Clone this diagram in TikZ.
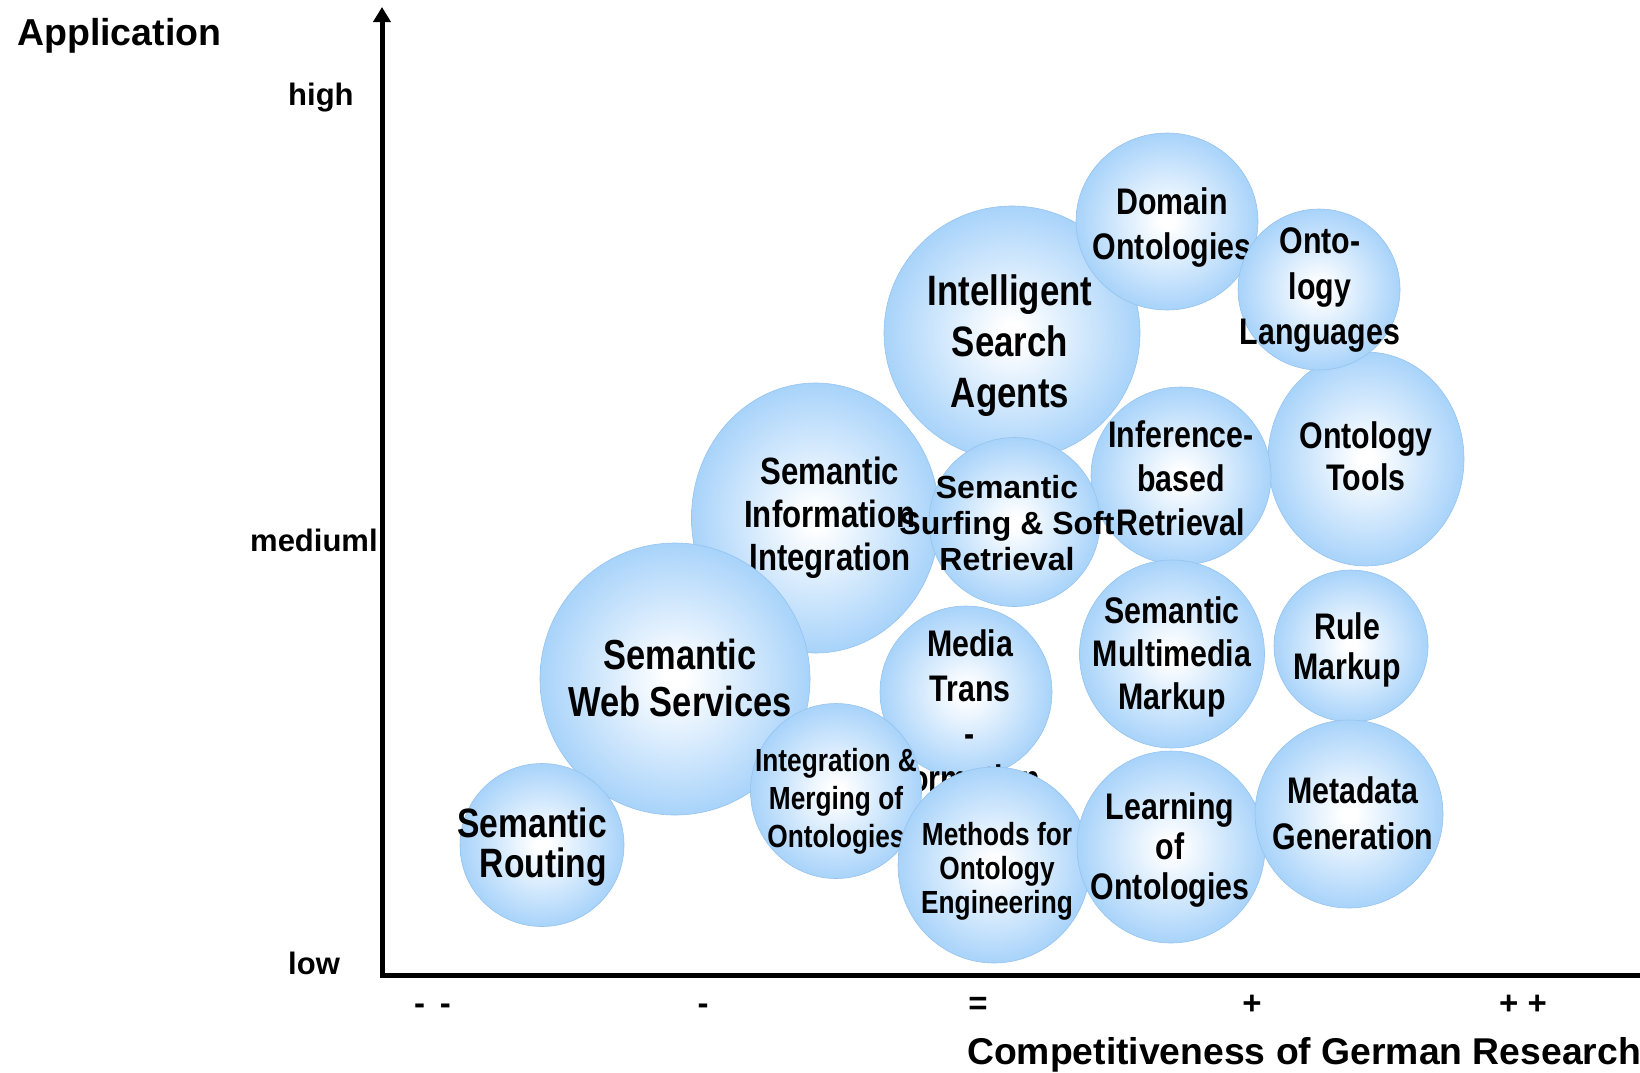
\documentclass[tikz,border=0pt]{standalone}
\usepackage{fontspec}
\setmainfont{Liberation Sans}
\newfontfamily\narrowfont[FakeStretch=0.82]{Liberation Sans}
\usetikzlibrary{shapes.geometric,arrows.meta}
\definecolor{bedge}{RGB}{168,211,250}
\definecolor{bline}{RGB}{150,195,238}
\pgfdeclareradialshading{bubshade}{\pgforigin}{color(0bp)=(white); color(2bp)=(white); color(25bp)=(bedge); color(50bp)=(bedge)}
\tikzset{
  bubble/.style={ellipse, inner sep=0pt, shading=bubshade, draw=bline, line width=0.6pt},
  bt/.style 2 args={align=center, inner sep=0pt, font=\narrowfont\bfseries\fontsize{#1}{#2}\selectfont},
  btw/.style 2 args={align=center, inner sep=0pt, font=\bfseries\fontsize{#1}{#2}\selectfont},
  axlab/.style={font=\bfseries\fontsize{31}{36}\selectfont, inner sep=0pt},
  ticklab/.style={font=\bfseries\fontsize{33}{36}\selectfont, inner sep=0pt},
  axisline/.style={line width=5pt}
}
\begin{document}
\begin{tikzpicture}[x=1pt,y=-1pt]
\useasboundingbox (0,0) rectangle (1640,1072);

% bubbles (bottom to top)
\node[bubble, minimum width=248pt, minimum height=270pt] (sii) at (815.5,518) {};
\node[bt={38}{43}] (sii-t) at (830,518) {Semantic\\Information\\Integration};

\node[bubble, minimum width=270pt, minimum height=272pt] (sws) at (675,679) {};
\node[bt={42}{47}] (sws-t) at (680,678) {Semantic\\Web Services};

\node[bubble, minimum width=164pt, minimum height=163pt] (sr) at (542,845) {};
\node[bt={41}{40}, align=right, anchor=east] (sr-t) at (607,847) {Semantic\\Routing};

\node[bubble, minimum width=256pt, minimum height=254pt] (isa) at (1012,333) {};
\node[bt={42.5}{51}] (isa-t) at (1010,346) {Intelligent\\Search\\Agents};

\node[bubble, minimum width=182pt, minimum height=177pt] (dom) at (1167,221.5) {};
\node[bt={37}{45}] (dom-t) at (1172,228) {Domain\\Ontologies};

\node[bubble, minimum width=196pt, minimum height=214pt] (tools) at (1366,459) {};
\node[bt={37}{42}] (tools-t) at (1366,456) {Ontology\\Tools};

\node[bubble, minimum width=162pt, minimum height=161pt] (onl) at (1319,289.5) {};
\node[bt={37}{45.5}] (onl-t) at (1320,290) {Onto-\\logy\\Languages};

\node[bubble, minimum width=180pt, minimum height=178pt] (inf) at (1181,476) {};
\node[bt={37}{44}] (inf-t) at (1181,478) {Inference-\\based\\Retrieval};

\node[bubble, minimum width=171pt, minimum height=169pt] (surf) at (1014.5,522) {};
\node[btw={32}{36}] (surf-t) at (1007,523) {Semantic\\Surfing \& Soft\\Retrieval};

\node[bubble, minimum width=172pt, minimum height=172pt] (media) at (966,692) {};
\node[bt={37}{45}] (media-t) at (970,711) {Media\\Trans\\-\\formation};

\node[bubble, minimum width=171pt, minimum height=175pt] (im) at (836,791) {};
\node[bt={32}{38}] (im-t) at (836,801) {Integration \&\\Merging of\\Ontologies};

\node[bubble, minimum width=192pt, minimum height=196pt] (meth) at (994,865) {};
\node[bt={32}{34}] (meth-t) at (997,871) {Methods for\\Ontology\\Engineering};

\node[bubble, minimum width=185pt, minimum height=188pt] (smm) at (1172,654) {};
\node[bt={37}{43}] (smm-t) at (1172,657) {Semantic\\Multimedia\\Markup};

\node[bubble, minimum width=188pt, minimum height=192pt] (learn) at (1171,847) {};
\node[bt={37}{40}] (learn-t) at (1170,850) {Learning\\of\\Ontologies};

\node[bubble, minimum width=154pt, minimum height=152pt] (rule) at (1351,646) {};
\node[bt={37}{40}] (rule-t) at (1347,650) {Rule\\Markup};

\node[bubble, minimum width=188pt, minimum height=188pt] (meta) at (1349,814) {};
\node[bt={37}{46}] (meta-t) at (1353,813) {Metadata\\Generation};

% axes
\coordinate (top) at (382,7);
\coordinate (orig) at (382,975);
\coordinate (xend) at (1642,975);
\draw[axisline, {Triangle[length=15pt,width=17pt]}-] (top) -- (orig) -- (xend);

% axis labels
\node[font=\bfseries\fontsize{37.5}{40}\selectfont, anchor=base west, inner sep=0pt] (app) at (17,45) {Application};
\node[axlab, anchor=base west] (high) at (288,105) {high};
\node[axlab, anchor=base west] (med) at (250,551) {mediuml};
\node[axlab, anchor=base west] (low) at (288,974) {low};

\node[ticklab, anchor=base] (t1) at (432.5,1014) {-\hspace{0.45em}-};
\node[ticklab, anchor=base] (t2) at (703,1014) {-};
\node[ticklab, anchor=base] (t3) at (978,1014) {=};
\node[ticklab, anchor=base] (t4) at (1252,1014) {+};
\node[ticklab, anchor=base] (t5) at (1523,1014) {+ +};

\node[font=\bfseries\fontsize{37.3}{40}\selectfont, anchor=base west, inner sep=0pt] (xlab) at (967,1064) {Competitiveness of German Research};
\end{tikzpicture}
\end{document}
